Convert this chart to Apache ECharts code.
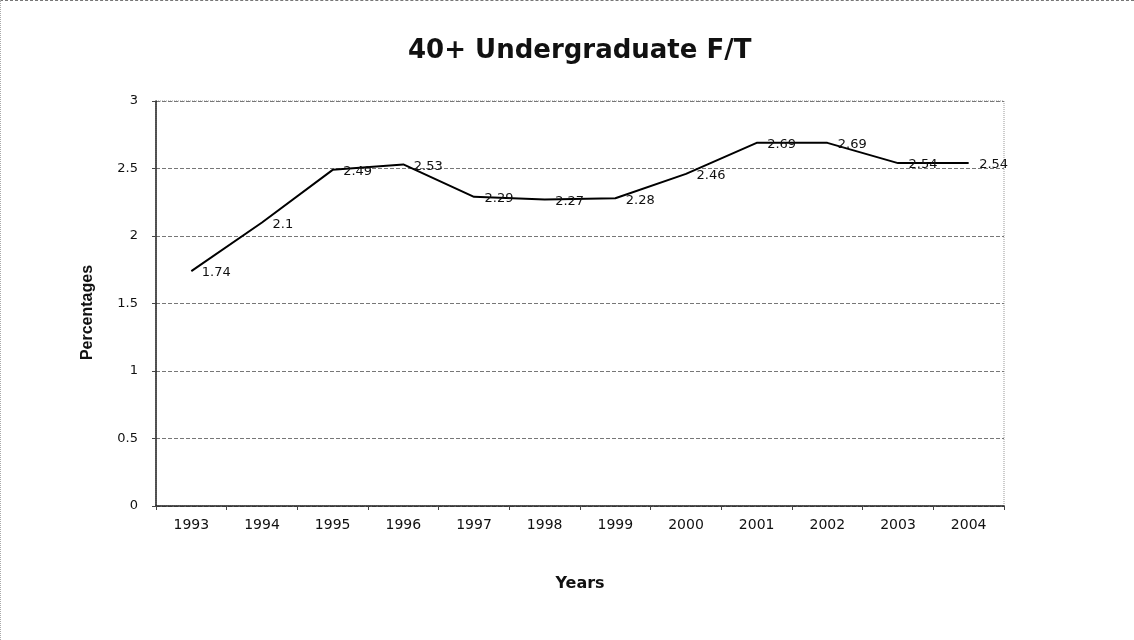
<!DOCTYPE html>
<html>
<head>
<meta charset="utf-8">
<script src="https://cdn.jsdelivr.net/npm/echarts@6/dist/echarts.min.js"></script>
<style>
  html, body { margin: 0; padding: 0; background: #fff; }
  #chart { width: 1134px; height: 640px; box-sizing: border-box; border-top: 1px dashed #777; border-left: 1px dotted #aaa; }
</style>
</head>
<body>
<div id="chart"></div>
<script>
// data
const years = ['1993', '1994', '1995', '1996', '1997', '1998', '1999', '2000', '2001', '2002', '2003', '2004'];
const percentages = [1.74, 2.1, 2.49, 2.53, 2.29, 2.27, 2.28, 2.46, 2.69, 2.69, 2.54, 2.54];
const yTicks = [0, 0.5, 1, 1.5, 2, 2.5, 3];

const font = 'DejaVu Sans, Arial';
const chart = echarts.init(document.getElementById('chart'));

const option = {
  animation: false,
  title: {
    text: '40+ Undergraduate F/T',
    left: 402,
    top: 32,
    textStyle: { fontFamily: font, fontSize: 26, fontWeight: 'bold', color: '#111' }
  },
  grid: {
    left: 155,
    right: 130,
    top: 100,
    bottom: 134,
    show: true,
    borderColor: '#999',
    borderWidth: 1,
    borderType: 'dotted'
  },
  xAxis: {
    type: 'category',
    data: years,
    boundaryGap: true,
    name: 'Years',
    nameLocation: 'middle',
    nameGap: 70,
    nameTextStyle: { fontFamily: font, fontSize: 16, fontWeight: 'bold', color: '#111' },
    axisLine: { lineStyle: { color: '#222', width: 1.5 } },
    axisTick: { show: true, length: 4, lineStyle: { color: '#444' } },
    axisLabel: { fontFamily: font, fontSize: 14, color: '#111', margin: 12 }
  },
  yAxis: {
    type: 'value',
    min: yTicks[0],
    max: yTicks[yTicks.length - 1],
    interval: 0.5,
    name: 'Percentages',
    nameLocation: 'middle',
    nameGap: 60,
    nameTextStyle: {
      fontFamily: 'Liberation Sans, Arial', fontSize: 16, fontWeight: 'bold', color: '#111',
      padding: [0, 18, 0, 0]
    },
    axisLine: { show: true, lineStyle: { color: '#222', width: 1.5 } },
    axisTick: { show: true, length: 4, lineStyle: { color: '#444' } },
    axisLabel: { fontFamily: font, fontSize: 13, color: '#111', margin: 18 },
    splitLine: { show: true, lineStyle: { color: '#777', type: 'dashed', width: 1 } }
  },
  series: [{
    type: 'line',
    data: percentages,
    showSymbol: true,
    symbol: 'circle',
    symbolSize: 1,
    itemStyle: { color: 'rgba(0,0,0,0)' },
    lineStyle: { color: '#000', width: 2 },
    label: {
      show: true,
      position: 'right',
      distance: 10,
      offset: [0, 2],
      fontFamily: font,
      fontSize: 13,
      color: '#111'
    }
  }]
};

chart.setOption(option);
</script>
</body>
</html>
